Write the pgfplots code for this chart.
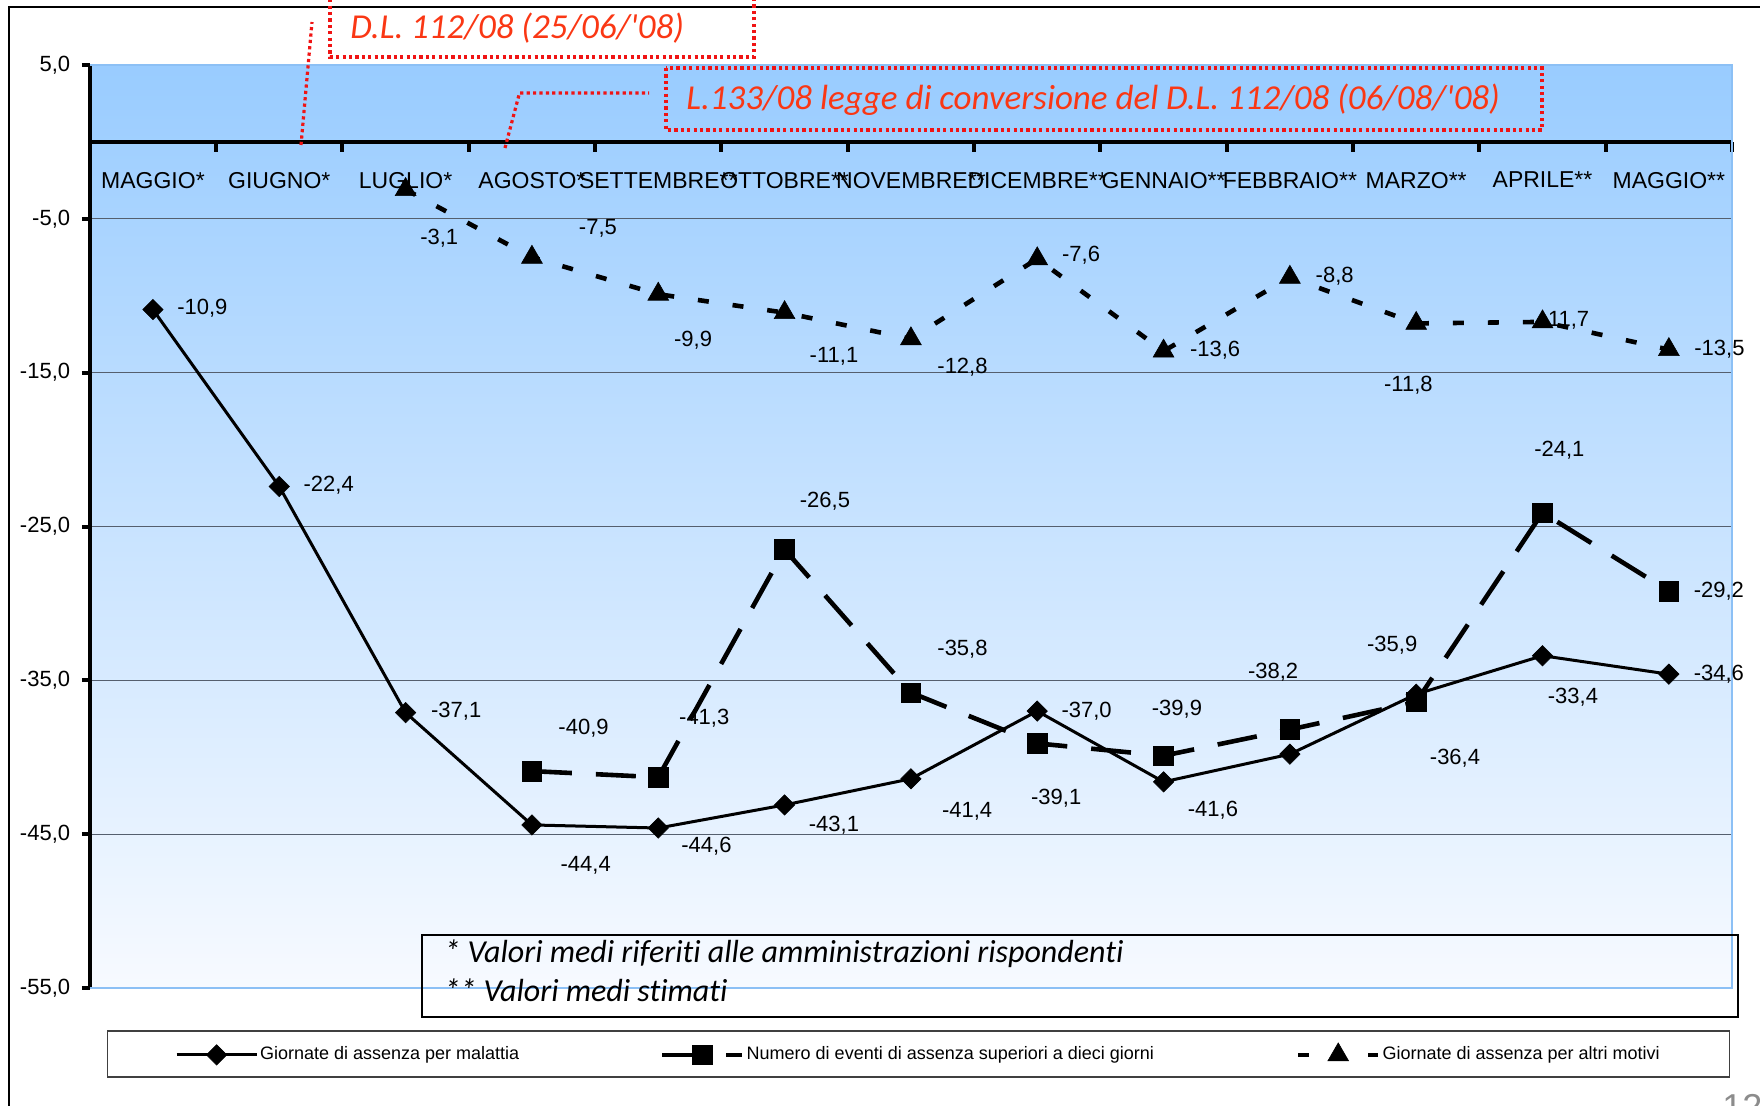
\documentclass[border=0pt]{standalone}
\usepackage{fontspec}
\setmainfont{Liberation Sans}
\newfontfamily\calib[Ligatures={NoCommon}]{Carlito}
\usepackage{pgfplots}
\pgfplotsset{compat=1.18}
\definecolor{bgtop}{RGB}{153,204,255}
\definecolor{bgbot}{RGB}{247,250,255}
\definecolor{bordblue}{RGB}{140,192,245}
\definecolor{gridc}{RGB}{85,95,110}
\definecolor{redtxt}{RGB}{250,55,20}
\definecolor{reddot}{RGB}{240,20,20}
\tikzset{lbl/.style={font=\fontsize{11}{13}\selectfont, inner sep=0pt}}
\begin{document}
\begin{tikzpicture}
\path[use as bounding box] (0pt,0pt) rectangle (880pt,-553pt);
\begin{axis}[
  at={(44.9pt,-494pt)}, anchor=south west,
  scale only axis, width=821.1pt, height=461.5pt,
  xmin=-0.5, xmax=12.5, ymin=-55, ymax=5,
  clip=false,
  axis x line*=middle, axis y line*=left,
  axis line style={line width=2.2pt, black},
  axis background/.style={shade, top color=bgtop, bottom color=bgbot},
  xtick={0,...,12},
  xticklabels={MAGGIO*, GIUGNO*, LUGLIO*, AGOSTO*, SETTEMBRE**, OTTOBRE**, NOVEMBRE**, DICEMBRE**, GENNAIO**, FEBBRAIO**, MARZO**, APRILE**, MAGGIO**},
  major x tick style={draw=none},
  minor xtick={-0.5,0.5,...,12.5},
  xtick align=center,
  minor x tick style={line width=2pt, black, yshift=-2.5pt},
  minor tick length=5pt,
  xticklabel style={font=\fontsize{11.5}{13}\selectfont, yshift=-9.5pt},
  ytick={5,-5,-15,-25,-35,-45,-55},
  yticklabels={{5,0},{-5,0},{-15,0},{-25,0},{-35,0},{-45,0},{-55,0}},
  ytick align=outside,
  major tick length=4pt,
  major y tick style={line width=2pt, black},
  yticklabel style={font=\fontsize{11}{13}\selectfont, xshift=-2.3pt},
  ymajorgrids, grid style={gridc, line width=0.6pt},
  legend columns=3,
  legend cell align=left,
  legend style={at={(0.0102,-0.0715)}, anchor=west, draw=black!75, line width=0.6pt,
    inner xsep=34pt, inner ysep=6pt, font=\fontsize{9}{10}\selectfont,
    nodes={inner xsep=1pt, inner ysep=0pt, text height=6.5pt, text depth=2pt},
    /tikz/every even column/.append style={column sep=0pt}},
  legend image code/.code={\draw[mark repeat=2,mark phase=2] plot coordinates {(0pt,0pt) (20pt,0pt) (40pt,0pt)};},
]
\draw[bordblue, line width=1pt] (axis cs:-0.5,-55) -- (axis cs:12.5,-55) -- (axis cs:12.5,5) -- (axis cs:-0.5,5);

\addplot[black, line width=1.5pt, mark=square*, mark size=3.6pt, mark options={rotate=45, solid, line width=0.3pt}] coordinates {
(0,-10.9) (1,-22.4) (2,-37.1) (3,-44.4) (4,-44.6) (5,-43.1) (6,-41.4) (7,-37.0) (8,-41.6) (9,-39.8) (10,-35.9) (11,-33.4) (12,-34.6)};
\addlegendentry{\makebox[199pt][l]{Giornate di assenza per malattia}}

\addplot[black, line width=2.3pt, dash pattern=on 20pt off 12pt, mark=square*, mark size=4.9pt, mark options={solid, line width=0.3pt}] coordinates {
(3,-40.9) (4,-41.3) (5,-26.5) (6,-35.8) (7,-39.1) (8,-39.9) (9,-38.2) (10,-36.4) (11,-24.1) (12,-29.2)};
\addlegendentry{\makebox[273.6pt][l]{Numero di eventi di assenza superiori a dieci giorni}}

\addplot[black, line width=2.3pt, dash pattern=on 5.5pt off 12pt, mark=triangle*, mark size=6pt, mark options={solid, line width=0.3pt}] coordinates {
(2,-3.1) (3,-7.5) (4,-9.9) (5,-11.1) (6,-12.8) (7,-7.6) (8,-13.6) (9,-8.8) (10,-11.8) (11,-11.7) (12,-13.5)};
\addlegendentry{Giornate di assenza per altri motivi}

% labels series 1
\node[lbl, xshift=24.7pt, yshift=0.6pt] at (axis cs:0,-10.9) {-10,9};
\node[lbl, xshift=24.7pt, yshift=0.6pt] at (axis cs:1,-22.4) {-22,4};
\node[lbl, xshift=25.3pt, yshift=0.6pt] at (axis cs:2,-37.1) {-37,1};
\node[lbl, xshift=26.9pt, yshift=-20.2pt] at (axis cs:3,-44.4) {-44,4};
\node[lbl, xshift=24.1pt, yshift=-9pt] at (axis cs:4,-44.6) {-44,6};
\node[lbl, xshift=24.7pt, yshift=-10.1pt] at (axis cs:5,-43.1) {-43,1};
\node[lbl, xshift=28.1pt, yshift=-16.3pt] at (axis cs:6,-41.4) {-41,4};
\node[lbl, xshift=24.7pt, yshift=0pt] at (axis cs:7,-37.0) {-37,0};
\node[lbl, xshift=24.7pt, yshift=-14pt] at (axis cs:8,-41.6) {-41,6};
\node[lbl, xshift=-12pt, yshift=24.7pt] at (axis cs:10,-35.9) {-35,9};
\node[lbl, xshift=15.2pt, yshift=-21pt] at (axis cs:11,-33.4) {-33,4};
\node[lbl, xshift=25pt, yshift=0pt] at (axis cs:12,-34.6) {-34,6};
% labels series 2
\node[lbl, xshift=25.8pt, yshift=21.3pt] at (axis cs:3,-40.9) {-40,9};
\node[lbl, xshift=23pt, yshift=29.7pt] at (axis cs:4,-41.3) {-41,3};
\node[lbl, xshift=20.2pt, yshift=24.1pt] at (axis cs:5,-26.5) {-26,5};
\node[lbl, xshift=25.8pt, yshift=21.9pt] at (axis cs:6,-35.8) {-35,8};
\node[lbl, xshift=9.5pt, yshift=-27.5pt] at (axis cs:7,-39.1) {-39,1};
\node[lbl, xshift=6.7pt, yshift=23pt] at (axis cs:8,-39.9) {-39,9};
\node[lbl, xshift=-8.4pt, yshift=28.6pt] at (axis cs:9,-38.2) {-38,2};
\node[lbl, xshift=19.4pt, yshift=-28.4pt] at (axis cs:10,-36.4) {-36,4};
\node[lbl, xshift=8.4pt, yshift=31.4pt] at (axis cs:11,-24.1) {-24,1};
\node[lbl, xshift=25pt, yshift=0pt] at (axis cs:12,-29.2) {-29,2};
% labels series 3
\node[lbl, xshift=16.8pt, yshift=-24.1pt] at (axis cs:2,-3.1) {-3,1};
\node[lbl, xshift=33pt, yshift=14.5pt] at (axis cs:3,-7.5) {-7,5};
\node[lbl, xshift=17.4pt, yshift=-23pt] at (axis cs:4,-9.9) {-9,9};
\node[lbl, xshift=24.7pt, yshift=-21.9pt] at (axis cs:5,-11.1) {-11,1};
\node[lbl, xshift=25.8pt, yshift=-14pt] at (axis cs:6,-12.8) {-12,8};
\node[lbl, xshift=21.9pt, yshift=1.7pt] at (axis cs:7,-7.6) {-7,6};
\node[lbl, xshift=25.8pt, yshift=0.6pt] at (axis cs:8,-13.6) {-13,6};
\node[lbl, xshift=22.4pt, yshift=0.6pt] at (axis cs:9,-8.8) {-8,8};
\node[lbl, xshift=-3.9pt, yshift=-30.9pt] at (axis cs:10,-11.8) {-11,8};
\node[lbl, xshift=11.2pt, yshift=0.6pt] at (axis cs:11,-11.7) {-11,7};
\node[lbl, xshift=25.3pt, yshift=0pt] at (axis cs:12,-13.5) {-13,5};
\end{axis}

\begin{scope}[x=0.5pt, y=-0.5pt]
  % outer slide frame
  \draw[line width=0.6pt] (9,1106) -- (9,7) -- (1760,7);
  % annotation 1
  \draw[reddot, line width=1.6pt, dash pattern=on 1.6pt off 1.6pt] (330,-20) rectangle (754,57);
  \draw[reddot, line width=1.6pt, dash pattern=on 1.6pt off 1.6pt] (301,145) -- (312,22);
  \node[anchor=west, inner sep=0pt, text=redtxt, font=\calib\itshape\fontsize{17.5}{20}\selectfont] at (350,28) {D.L. 112/08 (25/06/'08)};
  % annotation 2
  \draw[reddot, line width=1.6pt, dash pattern=on 1.6pt off 1.6pt] (666,68) rectangle (1542,130);
  \draw[reddot, line width=1.6pt, dash pattern=on 1.6pt off 1.6pt] (505,148) -- (519.5,93) -- (649,93);
  \node[anchor=west, inner sep=0pt, text=redtxt, font=\calib\itshape\fontsize{17.5}{20}\selectfont] at (686,100) {L.133/08 legge di conversione del D.L. 112/08 (06/08/'08)};
  % footnote box
  \draw[line width=1pt] (422,935) rectangle (1738,1017);
  \node[anchor=west, inner sep=0pt, font=\calib\itshape\fontsize{16}{19}\selectfont] at (444,954) {* Valori medi riferiti alle amministrazioni rispondenti};
  \node[anchor=west, inner sep=0pt, font=\calib\itshape\fontsize{16}{19}\selectfont] at (444,990) {** Valori medi stimati};
  % page number (cut)
  \node[anchor=north west, inner sep=0pt, text=black!45, font=\fontsize{18}{20}\selectfont] at (1722,1094) {12};
\end{scope}
\end{tikzpicture}
\end{document}
